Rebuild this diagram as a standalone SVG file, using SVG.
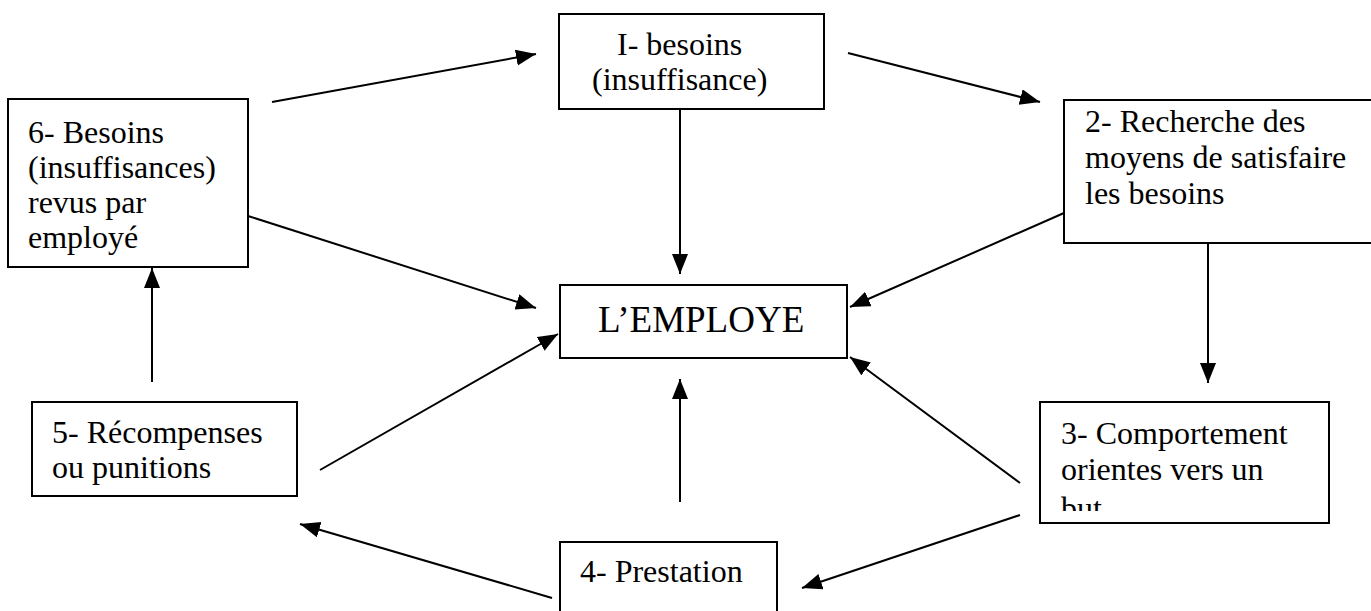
<svg xmlns="http://www.w3.org/2000/svg" width="1371" height="611" viewBox="0 0 1371 611">
  <style>
    .box { fill: #ffffff; stroke: #000000; stroke-width: 2; }
    .lbl { font-family: 'Liberation Serif', 'DejaVu Serif', serif; font-size: 32px; fill: #000000; }
    .big { font-size: 37px; }
    .edge { stroke: #000000; stroke-width: 2; fill: none; marker-end: url(#head); }
  </style>
  <defs>
    <marker id="head" markerUnits="userSpaceOnUse" markerWidth="22" markerHeight="18" refX="20" refY="8" orient="auto">
      <path d="M0,0 L20,8 L0,16 Z" fill="#000000"/>
    </marker>
    <clipPath id="clip3">
      <rect x="1040" y="402" width="289" height="109"/>
    </clipPath>
  </defs>
  <rect width="1371" height="611" fill="#ffffff"/>

  <g id="connectors">
    <line class="edge" x1="272" y1="102" x2="536" y2="54"/>
    <line class="edge" x1="848" y1="53" x2="1040" y2="102"/>
    <line class="edge" x1="680" y1="109" x2="680" y2="274"/>
    <line class="edge" x1="248" y1="216" x2="536" y2="308"/>
    <line class="edge" x1="1064" y1="213" x2="850" y2="307"/>
    <line class="edge" x1="1208" y1="243" x2="1208" y2="383"/>
    <line class="edge" x1="1020" y1="483" x2="850" y2="357"/>
    <line class="edge" x1="1020" y1="515" x2="802" y2="588"/>
    <line class="edge" x1="680" y1="502" x2="680" y2="379"/>
    <line class="edge" x1="552" y1="598" x2="300" y2="524"/>
    <line class="edge" x1="320" y1="470" x2="558" y2="334"/>
    <line class="edge" x1="152" y1="382" x2="152" y2="268"/>
  </g>

  <g id="node-1">
    <rect class="box" x="559" y="14" width="265" height="95"/>
    <text class="lbl" x="617" y="55">I- besoins</text>
    <text class="lbl" x="592" y="90">(insuffisance)</text>
  </g>

  <g id="node-2">
    <rect class="box" x="1064" y="100" width="310" height="143"/>
    <text class="lbl" x="1085" y="132">2- Recherche des</text>
    <text class="lbl" x="1085" y="168">moyens de satisfaire</text>
    <text class="lbl" x="1085" y="204">les besoins</text>
  </g>

  <g id="node-3">
    <rect class="box" x="1040" y="402" width="289" height="121"/>
    <g clip-path="url(#clip3)">
      <text class="lbl" x="1061" y="444">3- Comportement</text>
      <text class="lbl" x="1061" y="480">orientes vers un</text>
      <text class="lbl" x="1061" y="519">but</text>
    </g>
  </g>

  <g id="node-4">
    <rect class="box" x="560" y="542" width="217" height="80"/>
    <text class="lbl" x="580" y="582">4- Prestation</text>
  </g>

  <g id="node-5">
    <rect class="box" x="32" y="402" width="265" height="94"/>
    <text class="lbl" x="52" y="443">5- Récompenses</text>
    <text class="lbl" x="52" y="478">ou punitions</text>
  </g>

  <g id="node-6">
    <rect class="box" x="8" y="99" width="240" height="168"/>
    <text class="lbl" x="28" y="143">6- Besoins</text>
    <text class="lbl" x="28" y="178">(insuffisances)</text>
    <text class="lbl" x="28" y="213">revus par</text>
    <text class="lbl" x="28" y="248">employé</text>
  </g>

  <g id="node-employe">
    <rect class="box" x="560" y="285" width="287" height="73"/>
    <text class="lbl big" x="598" y="332">L’EMPLOYE</text>
  </g>
</svg>
